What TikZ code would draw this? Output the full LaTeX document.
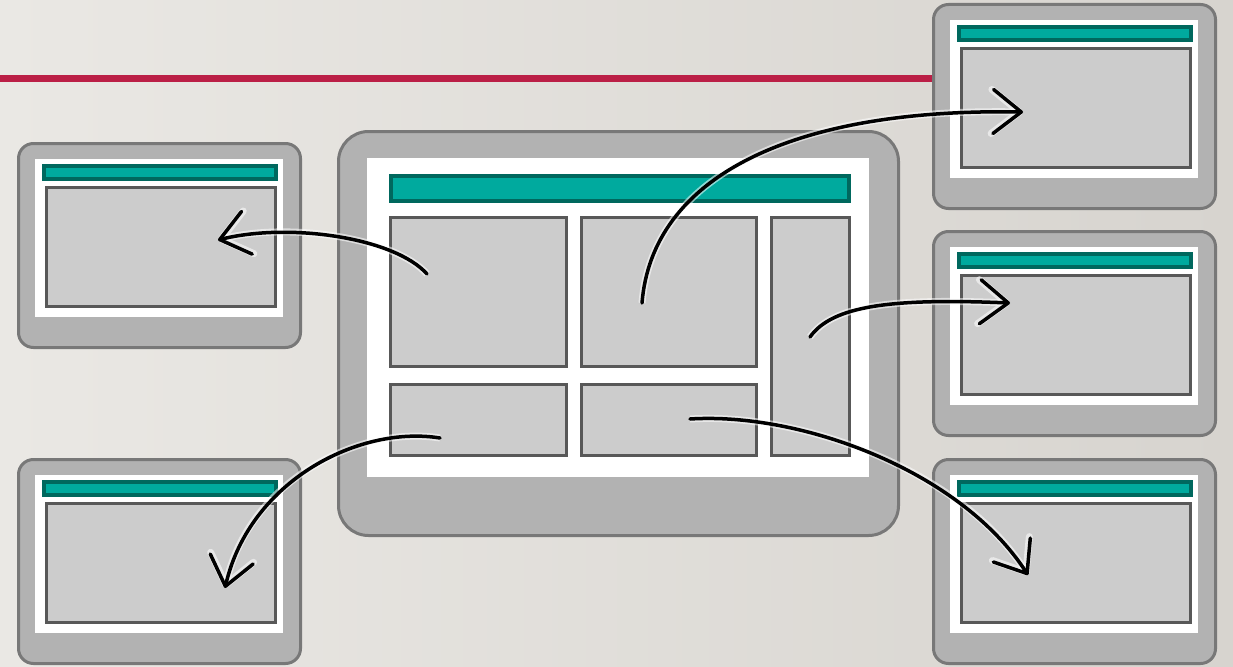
\documentclass[tikz,border=0pt]{standalone}
\usetikzlibrary{arrows.meta,positioning}
\definecolor{bgl}{RGB}{234,232,228}
\definecolor{bgr}{RGB}{215,212,207}
\definecolor{crimson}{RGB}{187,31,70}
\definecolor{shell}{RGB}{178,178,178}
\definecolor{shelledge}{RGB}{120,120,120}
\definecolor{cellgray}{RGB}{204,204,204}
\definecolor{celledge}{RGB}{88,88,88}
\definecolor{tealbar}{RGB}{0,170,158}
\definecolor{tealedge}{RGB}{0,104,94}
\tikzset{
  shellbox/.style={draw=shelledge,fill=shell,line width=3pt,rounded corners=15pt,anchor=north west,inner sep=0pt,outer sep=0pt},
  pane/.style={fill=white,anchor=north west,inner sep=0pt,outer sep=0pt},
  bar/.style={draw=tealedge,fill=tealbar,line width=4pt,anchor=north west,inner sep=0pt,outer sep=0pt},
  cell/.style={draw=celledge,fill=cellgray,line width=3pt,anchor=north west,inner sep=0pt,outer sep=0pt},
  rule/.style={draw=crimson,line width=6.5pt},
  arr/.style={line width=3.5pt,line cap=round,-{Straight Barb[length=28pt,width=44pt,round]},
    preaction={draw=white,line width=7pt,opacity=.55}},
}

\begin{document}
\begin{tikzpicture}[x=1pt,y=-1pt]
  \useasboundingbox (0,0) rectangle (1233,666);
  \shade[left color=bgl,right color=bgr] (0,0) rectangle (1233,666);
  \draw[rule] (0,78.5) -- (932,78.5);
  % small windows round the main one
  \foreach \w/\x/\y in {wl/17/142,wtr/932/3,wmr/932/230,wbr/932/458,wbl/17/458}{
    \node[shellbox,minimum width=282pt,minimum height=204pt] (\w) at (\x+1.5,\y+1.5) {};
    \node[pane,minimum width=248pt,minimum height=158pt] (\w-pane) at ([shift={(16.5,15.5)}]\w.north west) {};
    \node[bar,minimum width=232pt,minimum height=13pt] (\w-bar) at ([shift={(9,7)}]\w-pane.north west) {};
    \node[cell,minimum width=229pt,minimum height=119pt] (\w-cell) at ([shift={(11.5,28.5)}]\w-pane.north west) {};
  }
  % main window
  \node[shellbox,rounded corners=30pt,minimum width=560pt,minimum height=404pt] (main) at (338.5,131.5) {};
  \node[pane,minimum width=502pt,minimum height=319pt] (main-pane) at (367,158) {};
  \node[bar,minimum width=458pt,minimum height=25pt] (main-bar) at ([shift={(24,18)}]main-pane.north west) {};
  \node[cell,minimum width=176pt,minimum height=149pt] (c11) at ([shift={(23.5,59.5)}]main-pane.north west) {};
  \node[cell,minimum width=175pt,minimum height=149pt,right=15pt of c11] (c12) {};
  \node[cell,minimum width=78pt,minimum height=238pt] (c13) at ([xshift=15pt]c12.north east) {};
  \node[cell,minimum width=176pt,minimum height=71pt,below=18pt of c11] (c21) {};
  \node[cell,minimum width=175pt,minimum height=71pt,below=18pt of c12] (c22) {};
  % arrow ends
  \coordinate (s1) at (427,274);  \coordinate (e1) at (218,240);
  \coordinate (s2) at (642,303);  \coordinate (e2) at (1023,112);
  \coordinate (s3) at (810,337);  \coordinate (e3) at (1010,303);
  \coordinate (s4) at (440,438);  \coordinate (e4) at (225,588);
  \coordinate (s5) at (690,419);  \coordinate (e5) at (1028,575);
  \draw[arr] (s1) .. controls (395,238) and (290,222) .. (e1);
  \draw[arr] (s2) .. controls (652,178) and (790,108) .. (e2);
  \draw[arr] (s3) .. controls (832,306) and (890,298) .. (e3);
  \draw[arr] (s4) .. controls (360,425) and (250,480) .. (e4);
  \draw[arr] (s5) .. controls (800,412) and (960,470) .. (e5);
\end{tikzpicture}
\end{document}
